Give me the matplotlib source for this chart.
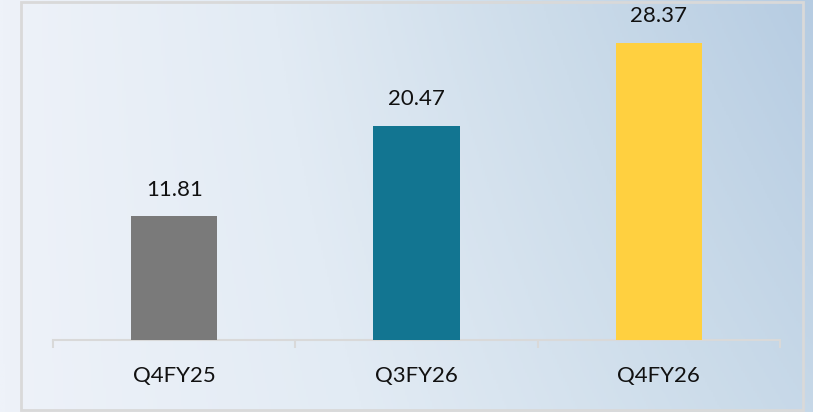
import numpy as np
import matplotlib
matplotlib.use("Agg")
import matplotlib.pyplot as plt
from matplotlib.patches import Rectangle
from matplotlib.colors import LinearSegmentedColormap

categories = ["Q4FY25", "Q3FY26", "Q4FY26"]
values = [11.81, 20.47, 28.37]
bar_colors = ["#7a7a7a", "#127591", "#ffd040"]

W, H = 813, 412
fig = plt.figure(figsize=(W / 100, H / 100), dpi=100)
plt.rcParams['font.family'] = ['Lato', 'DejaVu Sans']

# background gradient
bg = fig.add_axes([0, 0, 1, 1])
bg.set_axis_off()
xx = np.linspace(0, 1, 400)
yy = np.linspace(0, 1, 200)
X, Y = np.meshgrid(xx, yy)
t = np.clip(0.75 * X + 0.25 * (1 - Y) * X, 0, 1)
cmap = LinearSegmentedColormap.from_list("bg", ["#eef2f9", "#e2ebf4", "#ccdcea", "#b6cce2"])
bg.imshow(t, cmap=cmap, aspect='auto', extent=[0, 1, 0, 1], origin='upper', vmin=0, vmax=1)
bg.set_xlim(0, 1)
bg.set_ylim(0, 1)
bg.add_patch(Rectangle((21 / W, 2 / H), (803 - 21) / W, (410 - 2) / H,
                       fill=False, edgecolor="#d9d9d9", linewidth=2, transform=bg.transAxes))

ax = fig.add_axes([53 / W, (H - 340) / H, (780 - 53) / W, 314 / H])
ax.patch.set_alpha(0)
x = np.arange(len(categories))
bars = ax.bar(x, values, width=0.355, color=bar_colors, zorder=3)
ax.set_xlim(-0.5, 2.5)
ax.set_ylim(0, 30)
for s in ["top", "right", "left"]:
    ax.spines[s].set_visible(False)
ax.spines["bottom"].set_color("#d9d9d9")
ax.spines["bottom"].set_linewidth(1.5)
ax.set_yticks([])
ax.set_xticks(x)
ax.set_xticklabels(categories, fontsize=16, color="#111111")
ax.tick_params(axis='x', which='major', length=0, pad=19)
ax.set_xticks([-0.5, 0.5, 1.5, 2.5], minor=True)
ax.tick_params(axis='x', which='minor', length=6, width=1.5, color="#d9d9d9", direction='out')

for b, v in zip(bars, values):
    ax.annotate(f"{v:.2f}", (b.get_x() + b.get_width() / 2, v), xytext=(0, 12),
                textcoords='offset points', ha='center', va='bottom', fontsize=16, color="#111111")

fig.savefig("out.png", dpi=100)
